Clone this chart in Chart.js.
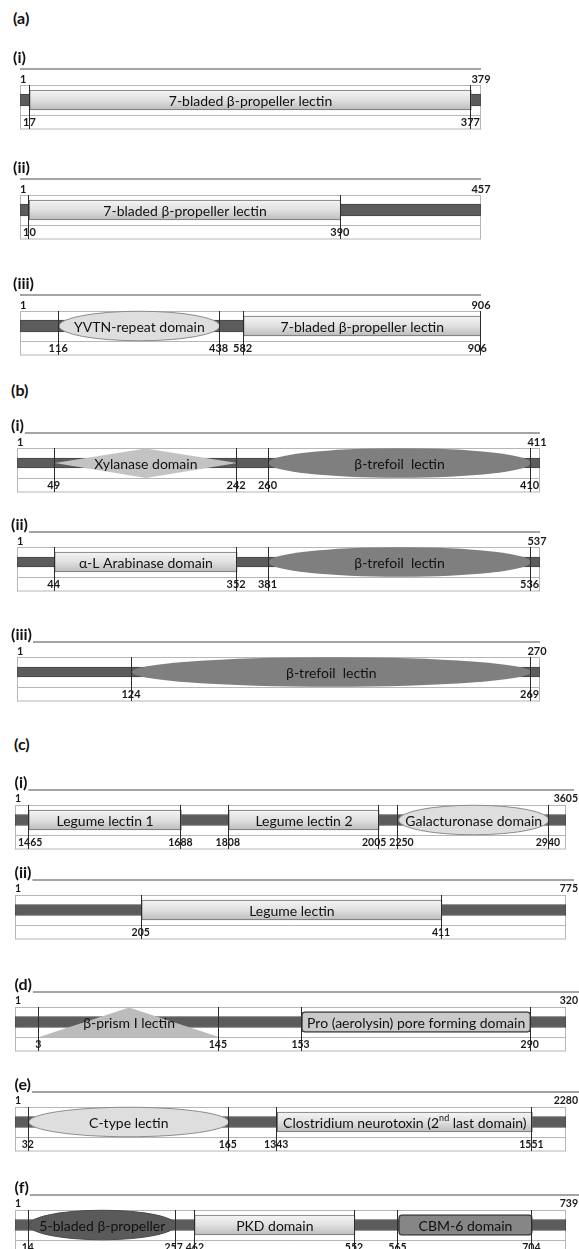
<!DOCTYPE html>
<html>
<head>
<meta charset="utf-8">
<script src="https://cdn.jsdelivr.net/npm/chart.js@4.4.0/dist/chart.umd.min.js"></script>
<style>
  body { margin: 0; background: #fff; }
  #fig { position: relative; width: 579px; height: 1249px; overflow: hidden; font-family: Lato, "Open Sans", sans-serif; }
  .panel { position: absolute; font-weight: bold; font-size: 16px; line-height: 16px; color: #111; }
  canvas { position: absolute; left: 0; }
</style>
</head>
<body>
<div id="fig">
  <div class="panel" style="left:13px;top:10px">(a)</div>
  <div class="panel" style="left:11px;top:382px">(b)</div>
  <div class="panel" style="left:14px;top:736px">(c)</div>
</div>
<script>
// one entry per protein row, top to bottom
const rowTags = ["(i)", "(ii)", "(iii)", "(i)", "(ii)", "(iii)", "(i)", "(ii)", "(d)", "(e)", "(f)"];
const proteinLength = [379, 457, 906, 411, 537, 270, 3605, 775, 320, 2280, 739];

// residue numbers printed under the track at each domain boundary
const boundaryRes = [
  [17, 377],
  [10, 390],
  [116, 438, 582, 906],
  [49, 242, 260, 410],
  [44, 352, 381, 536],
  [124, 269],
  [1465, 1688, 1808, 2005, 2250, 2940],
  [205, 411],
  [3, 145, 153, 290],
  [32, 165, 1343, 1551],
  [14, 257, 462, 552, 565, 704]
];

// where the (not to scale) schematic puts those boundaries, in % of the track
const boundaryPos = [
  [2.1, 97.9],
  [2.0, 69.6],
  [8.5, 43.3, 48.5, 100],
  [7.2, 42.1, 48.1, 98.2],
  [7.2, 42.1, 48.1, 98.2],
  [22.0, 98.2],
  [2.5, 30.2, 38.8, 66.1, 69.6, 96.9],
  [23.0, 77.5],
  [4.4, 37.0, 52.0, 93.6],
  [2.5, 38.8, 47.6, 93.9],
  [2.5, 29.2, 32.6, 61.7, 69.6, 93.9]
];

const domainNames = [
  ["7-bladed β-propeller lectin"],
  ["7-bladed β-propeller lectin"],
  ["YVTN-repeat domain", "7-bladed β-propeller lectin"],
  ["Xylanase domain", "β-trefoil  lectin"],
  ["α-L Arabinase domain", "β-trefoil  lectin"],
  ["β-trefoil  lectin"],
  ["Legume lectin 1", "Legume lectin 2", "Galacturonase domain"],
  ["Legume lectin"],
  ["β-prism I lectin", "Pro (aerolysin) pore forming domain"],
  ["C-type lectin", "Clostridium neurotoxin (2^nd last domain)"],
  ["5-bladed β-propeller", "PKD domain", "CBM-6 domain"]
];

// which boundaries each domain runs between
const domainEdges = [
  [[0, 1]],
  [[0, 1]],
  [[0, 1], [2, 3]],
  [[0, 1], [2, 3]],
  [[0, 1], [2, 3]],
  [[0, 1]],
  [[0, 1], [2, 3], [4, 5]],
  [[0, 1]],
  [[0, 1], [2, 3]],
  [[0, 1], [2, 3]],
  [[0, 1], [2, 3], [4, 5]]
];

const domainShapes = [
  ["box"],
  ["box"],
  ["oval", "box"],
  ["diamond", "ovalDark"],
  ["box", "ovalDark"],
  ["ovalDark"],
  ["box", "box", "oval"],
  ["box"],
  ["triangle", "round"],
  ["oval", "box"],
  ["ovalDarker", "box", "roundDark"]
];

// ---- layout ----
const rowPanel = ["a", "a", "a", "b", "b", "b", "c", "c", "d", "e", "f"];
const rowRuleY = [69, 179, 295, 433, 532, 642, 790, 880, 992, 1092, 1195];
const wide = { left: 15, right: 566, tagX: 14.5, tagAbove: false, ruleTo: 574, bone: 11, endAlign: "right", numSize: 10.5 };
const panelGeom = {
  a: { left: 20, right: 481, tagX: 13, tagAbove: true, ruleTo: 481, bone: 12, endAlign: "center", endShift: 0, numSize: 11 },
  b: { left: 17, right: 540, tagX: 11, tagAbove: false, ruleTo: 540, bone: 10, endAlign: "center", endShift: -3, numSize: 11 },
  c: wide,
  d: Object.assign({}, wide, { ruleTo: 579 }),
  e: Object.assign({}, wide, { ruleTo: 579 }),
  f: Object.assign({}, wide, { ruleTo: 579 })
};
const CAN_H = 88, HEAD = 20, NUM_ROW = 13.5;
const FONT = "Lato, 'Open Sans', sans-serif";

function boxGradient(c) {
  const ch = c.chart;
  if (!ch.chartArea) return "#dcdcdc";
  const y = ch.scales.y.getPixelForValue(0);
  const g = ch.ctx.createLinearGradient(0, y - 10, 0, y + 10);
  g.addColorStop(0, "#f5f5f5");
  g.addColorStop(0.5, "#e0e0e0");
  g.addColorStop(1, "#bcbcbc");
  return g;
}

function domainDataset(shape, span) {
  const base = { data: [span], grouped: false, order: 0, shape: shape, borderSkipped: false };
  if (shape === "box") return Object.assign(base, { shape: null, backgroundColor: boxGradient, borderColor: "#6f6f6f", borderWidth: 1, barThickness: 20 });
  if (shape === "round") return Object.assign(base, { shape: null, backgroundColor: "#cacaca", borderColor: "#3c3c3c", borderWidth: 1.5, borderRadius: 4, barThickness: 21 });
  if (shape === "roundDark") return Object.assign(base, { shape: null, backgroundColor: "#868686", borderColor: "#3c3c3c", borderWidth: 1.5, borderRadius: 4, barThickness: 21 });
  return Object.assign(base, { backgroundColor: "rgba(0,0,0,0)", barThickness: 30 });
}

const shapeFill = { oval: "#dedede", ovalDark: "#7f7f7f", ovalDarker: "#5a5a5a", diamond: "#c3c3c3", triangle: "#bcbcbc" };
const shapeLine = { oval: "#8c8c8c", ovalDark: null, ovalDarker: "#4d4d4d", diamond: null, triangle: null };

function drawName(ctx, text, x, y) {
  const parts = text.split(/\^(\w+)/);
  const big = "14px " + FONT, small = "9px " + FONT;
  let w = 0;
  parts.forEach((p, i) => { ctx.font = i % 2 ? small : big; w += ctx.measureText(p).width; });
  let cx = x - w / 2;
  ctx.textAlign = "left";
  parts.forEach((p, i) => {
    ctx.font = i % 2 ? small : big;
    ctx.fillText(p, cx, i % 2 ? y - 5 : y);
    cx += ctx.measureText(p).width;
  });
}

function trackPlugin(r) {
  const g = panelGeom[rowPanel[r]];
  return {
    id: "track" + r,
    beforeDatasetsDraw(chart) {
      const { ctx, chartArea: a } = chart;
      ctx.save();
      // row tag and the grey rule
      ctx.font = "bold 16px " + FONT;
      ctx.fillStyle = "#111";
      ctx.textBaseline = "middle";
      ctx.textAlign = "left";
      const tagY = g.tagAbove ? HEAD - 11 : HEAD - 7;
      ctx.fillText(rowTags[r], g.tagX, tagY);
      const ruleFrom = g.tagAbove ? g.left : g.tagX + ctx.measureText(rowTags[r]).width + 1;
      ctx.strokeStyle = "#a4a4a4";
      ctx.lineWidth = 2;
      ctx.beginPath();
      ctx.moveTo(ruleFrom, HEAD);
      ctx.lineTo(g.ruleTo, HEAD);
      ctx.stroke();
      // frame: track band plus number row
      ctx.strokeStyle = "#b6b6b6";
      ctx.lineWidth = 1;
      const L = Math.round(a.left) + 0.5, R = Math.round(a.right) - 0.5;
      const T = Math.round(a.top) + 0.5, S = Math.round(a.bottom) + 0.5;
      ctx.strokeRect(L, T, R - L, S + NUM_ROW - T);
      ctx.beginPath();
      ctx.moveTo(L, S);
      ctx.lineTo(R, S);
      ctx.stroke();
      ctx.restore();
    },
    beforeDatasetDraw(chart, args) {
      const ds = chart.data.datasets[args.index];
      if (!ds.shape) return;
      const { ctx, chartArea: a } = chart;
      const bar = args.meta.data[0];
      const x0 = Math.min(bar.base, bar.x), x1 = Math.max(bar.base, bar.x);
      const top = a.top + 0.5, bottom = a.bottom, cy = bar.y, mx = (x0 + x1) / 2;
      ctx.save();
      ctx.beginPath();
      if (ds.shape.startsWith("oval")) {
        ctx.ellipse(mx, cy, (x1 - x0) / 2, (bottom - top) / 2, 0, 0, Math.PI * 2);
      } else if (ds.shape === "diamond") {
        ctx.moveTo(x0, cy); ctx.lineTo(mx, top); ctx.lineTo(x1, cy); ctx.lineTo(mx, bottom); ctx.closePath();
      } else if (ds.shape === "triangle") {
        ctx.moveTo(x0, bottom); ctx.lineTo(mx, top); ctx.lineTo(x1, bottom); ctx.closePath();
      }
      ctx.fillStyle = shapeFill[ds.shape];
      ctx.fill();
      if (shapeLine[ds.shape]) {
        ctx.strokeStyle = shapeLine[ds.shape];
        ctx.lineWidth = 1;
        ctx.stroke();
      }
      ctx.restore();
      return false;
    },
    afterDatasetsDraw(chart) {
      const { ctx, chartArea: a } = chart;
      const x = chart.scales.x;
      const cy = chart.scales.y.getPixelForValue(0);
      ctx.save();
      // boundary ticks
      ctx.strokeStyle = "#2c2c2c";
      ctx.lineWidth = 1;
      boundaryPos[r].forEach(p => {
        const px = Math.round(x.getPixelForValue(p)) - 0.5;
        ctx.beginPath();
        ctx.moveTo(px, Math.round(a.top));
        ctx.lineTo(px, Math.round(a.bottom) + NUM_ROW + 0.5);
        ctx.stroke();
      });
      // residue numbers
      ctx.font = "bold " + g.numSize + "px " + FONT;
      ctx.fillStyle = "#1a1a1a";
      ctx.textBaseline = "middle";
      const topY = a.top - 6;
      ctx.textAlign = "left";
      ctx.fillText("1", a.left, topY);
      if (g.endAlign === "right") {
        ctx.textAlign = "right";
        ctx.fillText(String(proteinLength[r]), 578, topY);
      } else {
        ctx.textAlign = "center";
        ctx.fillText(String(proteinLength[r]), a.right + g.endShift, topY);
      }
      const numY = a.bottom + NUM_ROW / 2 + 1;
      ctx.textAlign = "left";
      const boxes = boundaryRes[r].map((n, i) => {
        const s = String(n);
        const w = ctx.measureText(s).width;
        let left = x.getPixelForValue(boundaryPos[r][i]) - 1 - w / 2;
        left = Math.max(left, a.left + 3);
        left = Math.min(left, a.right + 6 - w);
        return { s, w, left };
      });
      // push apart labels of boundaries that sit close together
      for (let i = 1; i < boxes.length; i++) {
        const gap = boxes[i].left - (boxes[i - 1].left + boxes[i - 1].w);
        if (gap < 3) {
          const d = (3 - gap) / 2;
          boxes[i - 1].left -= d;
          boxes[i].left += d;
        }
      }
      boxes.forEach(b => ctx.fillText(b.s, b.left, numY));
      // domain names
      ctx.fillStyle = "#111";
      domainNames[r].forEach((name, i) => {
        const [s, e] = domainEdges[r][i];
        const mid = (x.getPixelForValue(boundaryPos[r][s]) + x.getPixelForValue(boundaryPos[r][e])) / 2;
        drawName(ctx, name, mid, cy + 1);
      });
      ctx.restore();
    }
  };
}

const fig = document.getElementById("fig");
rowTags.forEach((tag, r) => {
  const g = panelGeom[rowPanel[r]];
  const canvas = document.createElement("canvas");
  canvas.width = 579;
  canvas.height = CAN_H;
  canvas.style.top = (rowRuleY[r] - HEAD) + "px";
  fig.appendChild(canvas);

  const aRow = rowPanel[r] === "a";
  const padTop = HEAD + (aRow ? 16 : 15);
  const padBottom = CAN_H - (HEAD + (aRow ? 46 : 45));

  const datasets = [{
    data: [[0, 100]],
    grouped: false,
    order: 10,
    backgroundColor: "#5c5c5c",
    borderColor: "#454545",
    borderWidth: 1,
    borderSkipped: false,
    barThickness: g.bone
  }];
  domainEdges[r].forEach((edge, i) => {
    const span = [boundaryPos[r][edge[0]], boundaryPos[r][edge[1]]];
    datasets.push(domainDataset(domainShapes[r][i], span));
  });

  new Chart(canvas.getContext("2d"), {
    type: "bar",
    data: { labels: [""], datasets: datasets },
    options: {
      indexAxis: "y",
      responsive: false,
      animation: false,
      devicePixelRatio: 1,
      layout: { padding: { left: g.left, right: 579 - g.right, top: padTop, bottom: padBottom } },
      scales: {
        x: { type: "linear", min: 0, max: 100, display: false },
        y: { display: false }
      },
      plugins: { legend: { display: false }, tooltip: { enabled: false } }
    },
    plugins: [trackPlugin(r)]
  });
});
</script>
</body>
</html>
